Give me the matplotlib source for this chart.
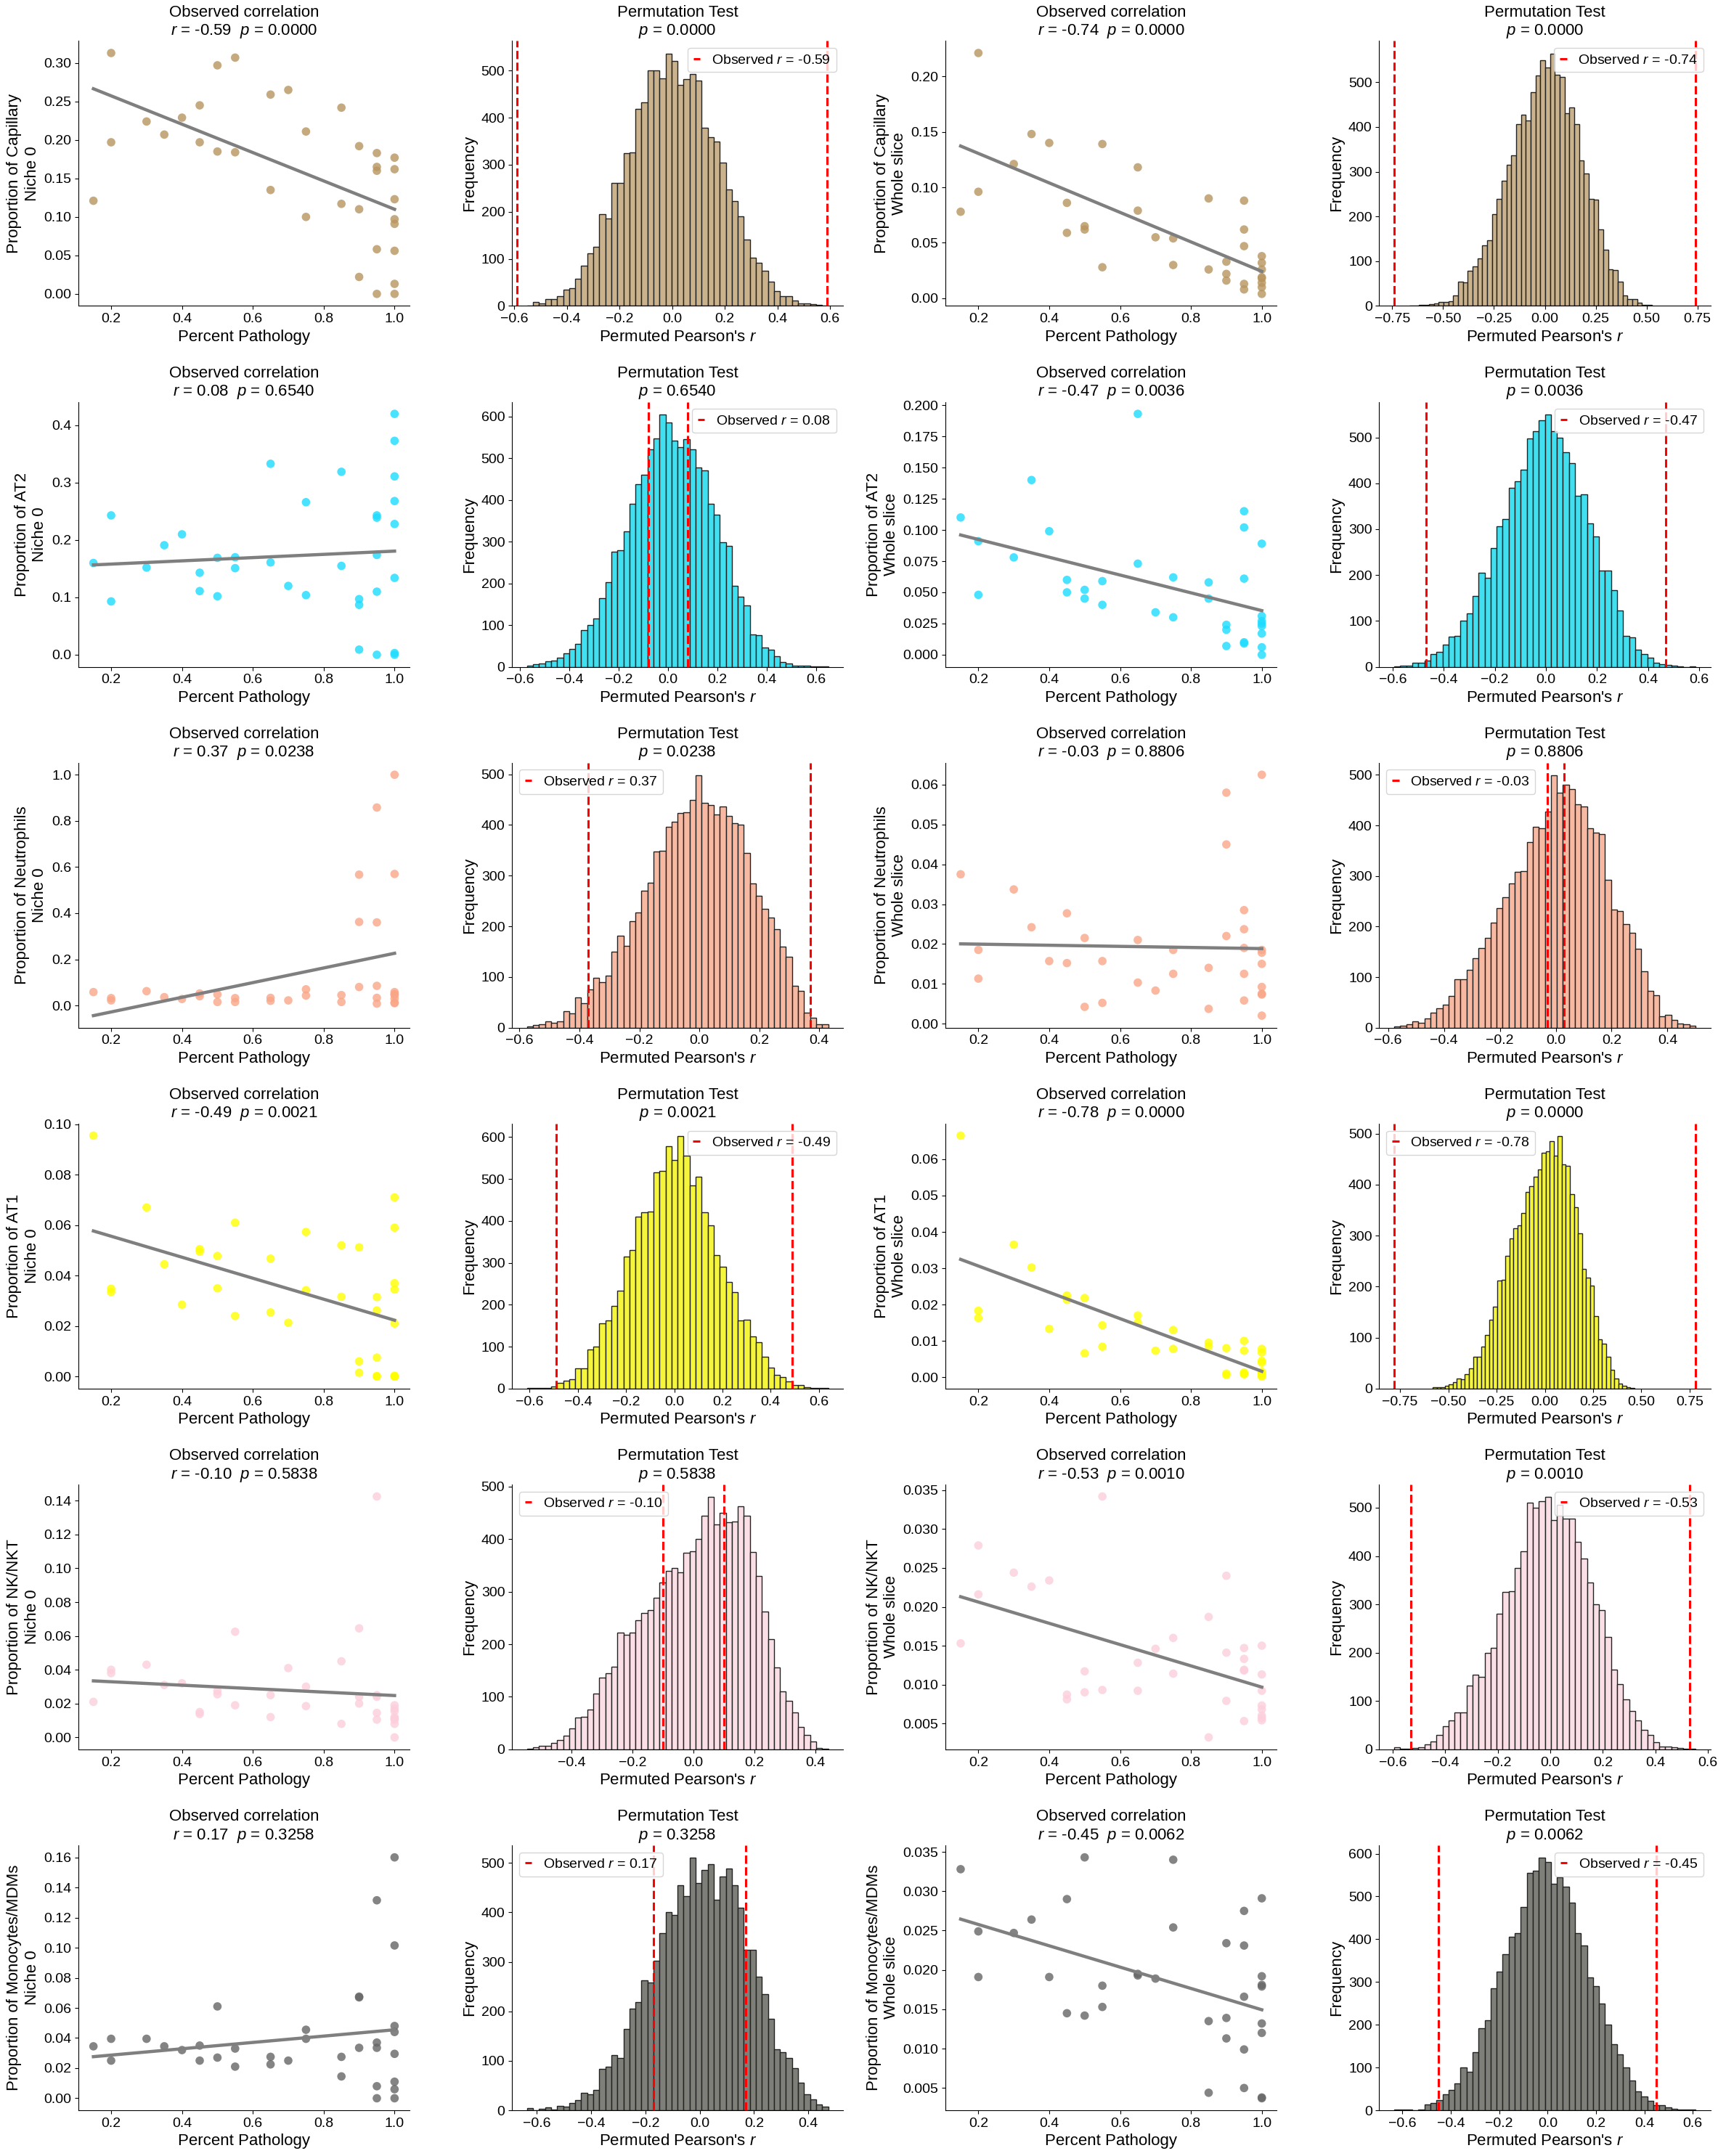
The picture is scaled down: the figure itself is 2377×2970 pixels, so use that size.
import numpy as np
import matplotlib
matplotlib.use('Agg')
import matplotlib.pyplot as plt

plt.rcParams['font.family'] = ['Liberation Sans', 'DejaVu Sans']
plt.rcParams['mathtext.fontset'] = 'custom'
plt.rcParams['mathtext.rm'] = 'Liberation Sans'
plt.rcParams['mathtext.it'] = 'Liberation Sans:italic'
plt.rcParams['font.size'] = 16
plt.rcParams['xtick.labelsize'] = 14
plt.rcParams['ytick.labelsize'] = 14

# ---- data ----
cell_types = ['Capillary', 'AT2', 'Neutrophils', 'AT1', 'NK/NKT', 'Monocytes/MDMs']
regions = ['Niche 0', 'Whole slice']

# percent pathology of each sample (same for every panel)
pathology = [0.15, 0.2, 0.2, 0.3, 0.35, 0.4, 0.45, 0.45, 0.5, 0.5, 0.55, 0.55,
             0.65, 0.65, 0.7, 0.75, 0.75, 0.85, 0.85, 0.9, 0.9, 0.9,
             0.95, 0.95, 0.95, 0.95, 0.95, 1.0, 1.0, 1.0, 1.0, 1.0, 1.0, 1.0, 1.0]

cap_niche = [0.121, 0.313, 0.197, 0.224, 0.207, 0.229, 0.245, 0.197, 0.297, 0.185, 0.307, 0.184,
             0.259, 0.135, 0.265, 0.211, 0.100, 0.242, 0.117, 0.192, 0.110, 0.022,
             0.183, 0.165, 0.160, 0.058, 0.000, 0.177, 0.162, 0.123, 0.097, 0.091, 0.056, 0.013, 0.000]
cap_whole = [0.078, 0.221, 0.096, 0.121, 0.148, 0.140, 0.086, 0.059, 0.065, 0.062, 0.139, 0.028,
             0.118, 0.079, 0.055, 0.054, 0.030, 0.090, 0.026, 0.033, 0.022, 0.016,
             0.088, 0.062, 0.047, 0.013, 0.008, 0.038, 0.032, 0.026, 0.019, 0.018, 0.014, 0.010, 0.004]
at2_niche = [0.160, 0.243, 0.093, 0.152, 0.191, 0.210, 0.143, 0.111, 0.169, 0.102, 0.170, 0.151,
             0.333, 0.161, 0.120, 0.266, 0.104, 0.319, 0.155, 0.097, 0.087, 0.009,
             0.243, 0.239, 0.174, 0.110, 0.000, 0.420, 0.373, 0.311, 0.268, 0.228, 0.134, 0.003, 0.000]
at2_whole = [0.110, 0.091, 0.048, 0.078, 0.140, 0.099, 0.060, 0.050, 0.052, 0.045, 0.059, 0.040,
             0.193, 0.073, 0.034, 0.062, 0.030, 0.058, 0.045, 0.024, 0.020, 0.007,
             0.115, 0.102, 0.061, 0.010, 0.009, 0.089, 0.031, 0.027, 0.025, 0.023, 0.017, 0.006, 0.000]
neut_niche = [0.058, 0.032, 0.022, 0.062, 0.036, 0.028, 0.052, 0.040, 0.048, 0.015, 0.032, 0.015,
              0.033, 0.020, 0.022, 0.070, 0.043, 0.045, 0.015, 0.567, 0.362, 0.080,
              0.858, 0.360, 0.085, 0.033, 0.008, 1.000, 0.570, 0.058, 0.050, 0.045, 0.030, 0.012, 0.010]
neut_whole = [0.0375, 0.0185, 0.0113, 0.0337, 0.0242, 0.0157, 0.0277, 0.0152, 0.0215, 0.0042, 0.0157, 0.0052,
              0.0210, 0.0103, 0.0083, 0.0185, 0.0125, 0.0140, 0.0037, 0.0580, 0.0450, 0.0220,
              0.0285, 0.0237, 0.0190, 0.0125, 0.0058, 0.0625, 0.0185, 0.0178, 0.0150, 0.0092, 0.0075, 0.0073, 0.0020]
at1_niche = [0.0955, 0.0348, 0.0335, 0.0670, 0.0445, 0.0285, 0.0505, 0.0495, 0.0478, 0.0350, 0.0610, 0.0240,
             0.0467, 0.0254, 0.0213, 0.0573, 0.0342, 0.0520, 0.0316, 0.0512, 0.0060, 0.0015,
             0.0315, 0.0262, 0.0075, 0.0002, 0.0000, 0.0710, 0.0590, 0.0370, 0.0345, 0.0210, 0.0003, 0.0000, 0.0000]
at1_whole = [0.0665, 0.0183, 0.0163, 0.0365, 0.0302, 0.0133, 0.0225, 0.0213, 0.0218, 0.0066, 0.0143, 0.0084,
             0.0170, 0.0150, 0.0073, 0.0130, 0.0078, 0.0095, 0.0085, 0.0080, 0.0010, 0.0006,
             0.0100, 0.0073, 0.0013, 0.0010, 0.0008, 0.0078, 0.0068, 0.0045, 0.0040, 0.0015, 0.0010, 0.0005, 0.0002]
nk_niche = [0.0210, 0.0400, 0.0380, 0.0430, 0.0310, 0.0320, 0.0150, 0.0138, 0.0275, 0.0255, 0.0625, 0.0190,
            0.0250, 0.0120, 0.0410, 0.0300, 0.0185, 0.0450, 0.0080, 0.0645, 0.0240, 0.0200,
            0.1425, 0.0250, 0.0240, 0.0145, 0.0105, 0.0190, 0.0170, 0.0155, 0.0120, 0.0110, 0.0105, 0.0080, 0.0000]
nk_whole = [0.0153, 0.0279, 0.0216, 0.0244, 0.0226, 0.0234, 0.0087, 0.0081, 0.0117, 0.0090, 0.0342, 0.0093,
            0.0128, 0.0092, 0.0146, 0.0160, 0.0114, 0.0187, 0.0032, 0.0240, 0.0141, 0.0079,
            0.0147, 0.0133, 0.0119, 0.0118, 0.0053, 0.0150, 0.0113, 0.0092, 0.0073, 0.0068, 0.0060, 0.0057, 0.0054]
mono_niche = [0.0345, 0.0395, 0.0250, 0.0395, 0.0345, 0.0320, 0.0350, 0.0250, 0.0610, 0.0270, 0.0330, 0.0210,
              0.0275, 0.0225, 0.0250, 0.0455, 0.0395, 0.0275, 0.0145, 0.0675, 0.0670, 0.0335,
              0.1315, 0.0370, 0.0335, 0.0080, 0.0000, 0.1600, 0.1015, 0.0480, 0.0440, 0.0295, 0.0110, 0.0060, 0.0000]
mono_whole = [0.0328, 0.0249, 0.0191, 0.0247, 0.0264, 0.0191, 0.0290, 0.0145, 0.0343, 0.0142, 0.0180, 0.0153,
              0.0195, 0.0193, 0.0189, 0.0340, 0.0254, 0.0135, 0.0044, 0.0234, 0.0139, 0.0113,
              0.0275, 0.0231, 0.0166, 0.0099, 0.0050, 0.0291, 0.0192, 0.0181, 0.0179, 0.0132, 0.0120, 0.0038, 0.0037]

# observed r and permutation p, [niche, whole] per cell type
obs_r = [[-0.59, -0.74], [0.08, -0.47], [0.37, -0.03], [-0.49, -0.78], [-0.10, -0.53], [0.17, -0.45]]
perm_p = [[0.0000, 0.0000], [0.6540, 0.0036], [0.0238, 0.8806], [0.0021, 0.0000], [0.5838, 0.0010], [0.3258, 0.0062]]

# permutation histograms: 50 bin counts and the range they cover
cap_niche_counts = [1, 8, 6, 14, 15, 20, 34, 37, 57, 86, 112, 125, 195, 185, 261, 261, 324, 326, 419, 433,
                    500, 501, 483, 536, 521, 469, 481, 492, 479, 378, 358, 349, 304, 248, 222, 190, 141, 102, 91, 75,
                    51, 31, 21, 20, 12, 6, 6, 3, 2, 1]
cap_niche_range = [-0.551, 0.593]
cap_whole_counts = [1, 0, 3, 2, 4, 5, 9, 9, 11, 24, 55, 52, 78, 88, 106, 135, 146, 205, 240, 279,
                    316, 336, 406, 427, 415, 478, 515, 549, 533, 564, 516, 511, 431, 443, 406, 325, 296, 240, 238, 171,
                    126, 82, 81, 55, 24, 16, 16, 7, 3, 3]
cap_whole_range = [-0.665, 0.525]
at2_niche_counts = [3, 6, 8, 13, 15, 22, 33, 42, 55, 88, 100, 116, 165, 203, 276, 280, 325, 391, 437, 460,
                    522, 548, 605, 585, 543, 527, 545, 522, 477, 470, 391, 364, 298, 290, 195, 168, 147, 78, 76, 46,
                    41, 26, 11, 8, 3, 2, 2, 1, 1, 1]
at2_niche_range = [-0.571, 0.649]
at2_whole_counts = [1, 3, 3, 8, 8, 14, 28, 33, 48, 65, 68, 100, 117, 154, 205, 194, 258, 306, 322, 390,
                    405, 430, 497, 514, 538, 550, 513, 500, 467, 444, 372, 376, 312, 284, 210, 210, 167, 122, 68, 64,
                    38, 28, 20, 8, 6, 4, 2, 1, 0, 1]
at2_whole_range = [-0.594, 0.585]
neut_niche_counts = [3, 5, 6, 12, 10, 12, 32, 28, 60, 48, 75, 98, 90, 103, 150, 181, 162, 210, 228, 271,
                     286, 347, 349, 397, 407, 423, 425, 450, 498, 444, 440, 421, 437, 418, 404, 401, 345, 285, 260, 235,
                     218, 194, 160, 140, 83, 73, 29, 19, 6, 6]
neut_niche_range = [-0.575, 0.430]
neut_whole_counts = [3, 4, 7, 12, 10, 18, 30, 38, 45, 62, 95, 95, 115, 137, 157, 178, 208, 236, 258, 285,
                     308, 310, 367, 397, 395, 427, 499, 465, 481, 472, 441, 438, 395, 385, 383, 292, 233, 231, 205, 188,
                     156, 112, 73, 64, 22, 25, 15, 8, 6, 4]
neut_whole_range = [-0.578, 0.500]
at1_niche_counts = [1, 1, 2, 2, 5, 14, 18, 22, 48, 48, 93, 100, 156, 162, 197, 233, 315, 330, 410, 420,
                    423, 515, 520, 578, 545, 602, 555, 485, 505, 420, 390, 318, 290, 255, 230, 163, 165, 125, 110, 75,
                    50, 33, 27, 17, 8, 8, 3, 1, 2, 2]
at1_niche_range = [-0.611, 0.639]
at1_whole_counts = [2, 3, 3, 5, 8, 12, 20, 18, 28, 40, 62, 62, 83, 105, 135, 160, 212, 213, 260, 295,
                    315, 320, 345, 385, 397, 415, 430, 462, 465, 485, 457, 495, 440, 437, 382, 355, 305, 235, 218, 202,
                    142, 97, 88, 62, 37, 20, 10, 6, 3, 1]
at1_whole_range = [-0.581, 0.464]
nk_niche_counts = [1, 4, 7, 7, 12, 18, 26, 40, 60, 62, 76, 106, 137, 145, 157, 222, 218, 222, 245, 260,
                   265, 288, 318, 340, 345, 337, 374, 377, 400, 445, 480, 428, 450, 432, 433, 462, 445, 376, 330, 262,
                   210, 156, 110, 92, 70, 42, 28, 15, 2, 1]
nk_niche_range = [-0.547, 0.443]
nk_whole_counts = [4, 1, 1, 3, 5, 10, 17, 30, 48, 60, 77, 76, 132, 155, 150, 200, 210, 280, 325, 327,
                   376, 410, 510, 500, 513, 522, 475, 506, 478, 478, 430, 395, 345, 300, 288, 232, 165, 135, 103, 80,
                   60, 40, 30, 15, 6, 6, 4, 3, 1, 2]
nk_whole_range = [-0.594, 0.552]
mono_niche_counts = [4, 0, 3, 6, 2, 9, 7, 14, 21, 35, 33, 41, 83, 88, 112, 106, 165, 205, 218, 263,
                     258, 302, 358, 400, 395, 455, 433, 510, 460, 485, 497, 426, 472, 488, 455, 410, 325, 325, 270, 235,
                     185, 123, 118, 105, 85, 56, 32, 22, 12, 7]
mono_niche_range = [-0.636, 0.473]
mono_whole_counts = [2, 2, 2, 0, 2, 14, 17, 24, 38, 48, 63, 100, 90, 136, 192, 210, 285, 325, 365, 405,
                     415, 475, 555, 560, 590, 580, 530, 545, 522, 485, 415, 385, 310, 290, 250, 200, 155, 130, 100, 70,
                     45, 32, 22, 12, 12, 7, 3, 2, 1, 2]
mono_whole_range = [-0.634, 0.611]

scatter_y = [[cap_niche, cap_whole], [at2_niche, at2_whole], [neut_niche, neut_whole],
             [at1_niche, at1_whole], [nk_niche, nk_whole], [mono_niche, mono_whole]]
hist_counts = [[cap_niche_counts, cap_whole_counts], [at2_niche_counts, at2_whole_counts],
               [neut_niche_counts, neut_whole_counts], [at1_niche_counts, at1_whole_counts],
               [nk_niche_counts, nk_whole_counts], [mono_niche_counts, mono_whole_counts]]
hist_ranges = [[cap_niche_range, cap_whole_range], [at2_niche_range, at2_whole_range],
               [neut_niche_range, neut_whole_range], [at1_niche_range, at1_whole_range],
               [nk_niche_range, nk_whole_range], [mono_niche_range, mono_whole_range]]

# ---- styling ----
point_colors = ['#b8955f', '#1ddcff', '#f9a688', '#ffff00', '#fccfdc', '#666666']
bar_colors = ['#c9b28c', '#40e0f0', '#f8b9a3', '#f5f53c', '#fbdfe6', '#7f7f79']
legend_locs = [['upper right', 'upper right'], ['upper right', 'upper right'],
               ['upper left', 'upper left'], ['upper right', 'upper left'],
               ['upper left', 'upper right'], ['upper left', 'upper right']]

fig, axes = plt.subplots(6, 4, figsize=(23.77, 29.70), dpi=100)
plt.subplots_adjust(left=0.0454, right=0.991, bottom=0.0212, top=0.981, wspace=0.309, hspace=0.362)

x = np.array(pathology)
for i, cell in enumerate(cell_types):
    for j, region in enumerate(regions):
        r = obs_r[i][j]
        p = perm_p[i][j]

        # scatter + regression line
        ax = axes[i, 2 * j]
        y = np.array(scatter_y[i][j])
        ax.scatter(x, y, s=70, color=point_colors[i], alpha=0.8, edgecolors='none', zorder=2)
        slope, icpt = np.polyfit(x, y, 1)
        xs = np.array([x.min(), x.max()])
        ax.plot(xs, slope * xs + icpt, color='#7f7f7f', lw=3.2, zorder=3)
        ax.set_title('Observed correlation\n$r$ = %.2f  $p$ = %.4f' % (r, p), fontsize=16)
        ax.set_xlabel('Percent Pathology', fontsize=16)
        ax.set_ylabel('Proportion of %s\n%s' % (cell, region), fontsize=16)
        ax.spines['top'].set_visible(False)
        ax.spines['right'].set_visible(False)

        # permutation histogram
        ax = axes[i, 2 * j + 1]
        counts = hist_counts[i][j]
        lo, hi = hist_ranges[i][j]
        edges = np.linspace(lo, hi, len(counts) + 1)
        ax.hist(edges[:-1], bins=edges, weights=counts, color=bar_colors[i],
                edgecolor='#222222', linewidth=1.0)
        ax.axvline(r, color='red', ls='--', lw=2.2, label='Observed $r$ = %.2f' % r)
        ax.axvline(-r, color='red', ls='--', lw=2.2)
        ax.legend(loc=legend_locs[i][j], fontsize=14, handlelength=0.5)
        ax.set_title('Permutation Test\n$p$ = %.4f' % p, fontsize=16)
        ax.set_xlabel("Permuted Pearson's $r$", fontsize=16)
        ax.set_ylabel('Frequency', fontsize=16)
        ax.spines['top'].set_visible(False)
        ax.spines['right'].set_visible(False)

plt.savefig('out.png', dpi=100)
